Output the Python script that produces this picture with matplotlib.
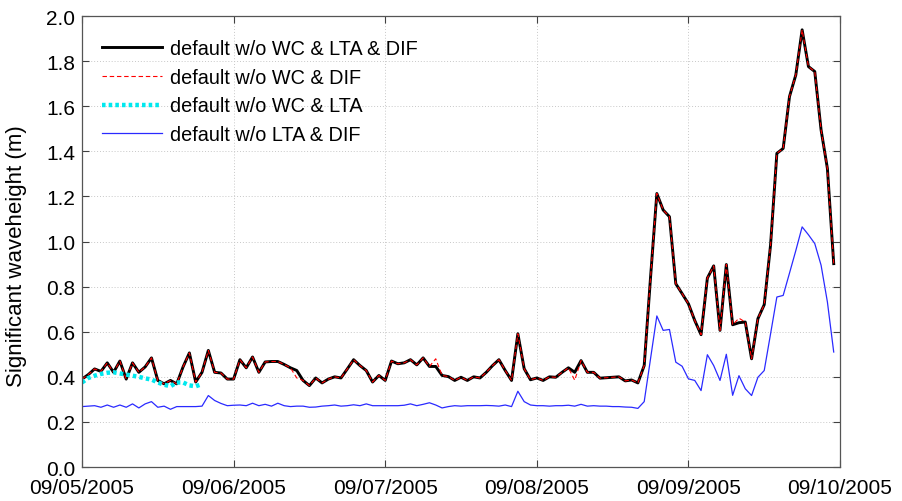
"""Significant waveheight comparison, 09/05/2005 - 09/10/2005 (hourly)."""
import matplotlib
matplotlib.use("Agg")
import matplotlib.dates as mdates
import matplotlib.pyplot as plt
import pandas as pd

START = "2005-09-05 00:00"
END = "2005-09-10 00:00"

# hourly values, h = 0 .. 119
wc_lta_dif = [
    0.39, 0.41, 0.435, 0.424, 0.462, 0.42, 0.47, 0.39, 0.462, 0.42, 0.444, 0.484,
    0.384, 0.369, 0.384, 0.369, 0.444, 0.506, 0.377, 0.42, 0.517, 0.42, 0.417, 0.39,
    0.39, 0.476, 0.44, 0.488, 0.42, 0.466, 0.468, 0.468, 0.455, 0.44, 0.428, 0.384,
    0.361, 0.395, 0.373, 0.39, 0.40, 0.395, 0.435, 0.476, 0.45, 0.428, 0.377, 0.406,
    0.384, 0.47, 0.458, 0.462, 0.476, 0.453, 0.484, 0.446, 0.446, 0.406, 0.401, 0.384,
    0.398, 0.384, 0.40, 0.395, 0.42, 0.45, 0.476, 0.428, 0.384, 0.591, 0.436, 0.387,
    0.395, 0.384, 0.40, 0.398, 0.42, 0.44, 0.42, 0.472, 0.42, 0.42, 0.394, 0.396,
    0.398, 0.40, 0.382, 0.386, 0.373, 0.45, 0.84, 1.213, 1.14, 1.11, 0.813, 0.769,
    0.724, 0.65, 0.587, 0.838, 0.892, 0.606, 0.898, 0.631, 0.64, 0.643, 0.48, 0.658,
    0.72, 0.984, 1.391, 1.413, 1.643, 1.739, 1.939, 1.776, 1.754, 1.495, 1.324, 0.902,
]

# "w/o WC & DIF" is the same run apart from a few hours
wc_dif_diffs = {34: 0.395, 56: 0.48, 78: 0.385, 104: 0.66}

# "w/o WC & LTA" only covers the first hours
wc_lta = [
    0.375, 0.395, 0.405, 0.413, 0.418, 0.42, 0.415, 0.41, 0.405, 0.40,
    0.393, 0.388, 0.375, 0.365, 0.358, 0.375, 0.375, 0.362, 0.358, 0.368,
]

lta_dif = [
    0.268, 0.27, 0.272, 0.265, 0.275, 0.265, 0.275, 0.265, 0.28, 0.262, 0.28, 0.29,
    0.265, 0.27, 0.256, 0.268, 0.268, 0.268, 0.268, 0.27, 0.317, 0.295, 0.282, 0.272,
    0.274, 0.275, 0.272, 0.283, 0.272, 0.278, 0.27, 0.283, 0.272, 0.268, 0.27, 0.27,
    0.265, 0.266, 0.27, 0.272, 0.275, 0.27, 0.272, 0.276, 0.272, 0.28, 0.272, 0.272,
    0.272, 0.272, 0.272, 0.274, 0.28, 0.272, 0.278, 0.285, 0.275, 0.262, 0.268, 0.272,
    0.27, 0.272, 0.272, 0.272, 0.273, 0.272, 0.27, 0.275, 0.268, 0.336, 0.29, 0.275,
    0.272, 0.272, 0.27, 0.272, 0.272, 0.274, 0.27, 0.278, 0.27, 0.272, 0.27, 0.27,
    0.268, 0.268, 0.266, 0.265, 0.26, 0.29, 0.48, 0.67, 0.606, 0.61, 0.465, 0.447,
    0.391, 0.384, 0.339, 0.498, 0.45, 0.384, 0.50, 0.318, 0.405, 0.347, 0.317, 0.398,
    0.428, 0.59, 0.754, 0.761, 0.86, 0.96, 1.065, 1.03, 0.991, 0.895, 0.732, 0.51,
]

labels = [
    "default w/o WC & LTA & DIF",
    "default w/o WC & DIF",
    "default w/o WC & LTA",
    "default w/o LTA & DIF",
]
y_ticks = [0.0, 0.2, 0.4, 0.6, 0.8, 1.0, 1.2, 1.4, 1.6, 1.8, 2.0]

wc_dif = list(wc_lta_dif)
for hour, value in wc_dif_diffs.items():
    wc_dif[hour] = value

times = pd.date_range(START, periods=len(wc_lta_dif), freq="h")

plt.rcParams["font.family"] = ["Liberation Sans", "DejaVu Sans"]

fig = plt.figure(figsize=(9.02, 5.02), dpi=100)
ax = fig.add_axes([0.0909, 0.0677, 0.8404, 0.8983])

ax.plot(times, wc_lta_dif, color="black", lw=2.1, label=labels[0])
ax.plot(times, wc_dif, color="red", lw=0.8, ls=(0, (4, 2.5)), label=labels[1])
ax.plot(times[:len(wc_lta)], wc_lta, color="#00e8ee", lw=3.2, ls=(0, (0.8, 0.7)),
        label=labels[2])
ax.plot(times, lta_dif, color="#2a2aff", lw=0.9, label=labels[3])

ax.set_xlim(pd.Timestamp(START), pd.Timestamp(END))
ax.set_ylim(0, 2.0)
ax.set_yticks(y_ticks)
ax.yaxis.set_major_formatter(plt.FormatStrFormatter("%.1f"))
ax.xaxis.set_major_locator(mdates.DayLocator())
ax.xaxis.set_major_formatter(mdates.DateFormatter("%m/%d/%Y"))

ax.grid(True, ls=(0, (1, 2)), color="#c8c8c8", lw=0.7)
ax.tick_params(direction="in", length=5, width=0.8, color="#404040",
               top=True, right=True, labelsize=15)
ax.tick_params(axis="x", pad=8)
ax.tick_params(axis="y", pad=5)
for spine in ax.spines.values():
    spine.set_color("#555555")
    spine.set_linewidth(0.9)

ax.set_ylabel("Significant waveheight (m)", fontsize=16)
ax.yaxis.set_label_coords(-0.073, 0.47)

ax.legend(loc="upper left", bbox_to_anchor=(0.027, 0.95), frameon=False,
          fontsize=14.3, handlelength=3.0, handletextpad=0.4, labelspacing=0.5,
          borderpad=0, borderaxespad=0)

fig.savefig("out.png", dpi=100)
